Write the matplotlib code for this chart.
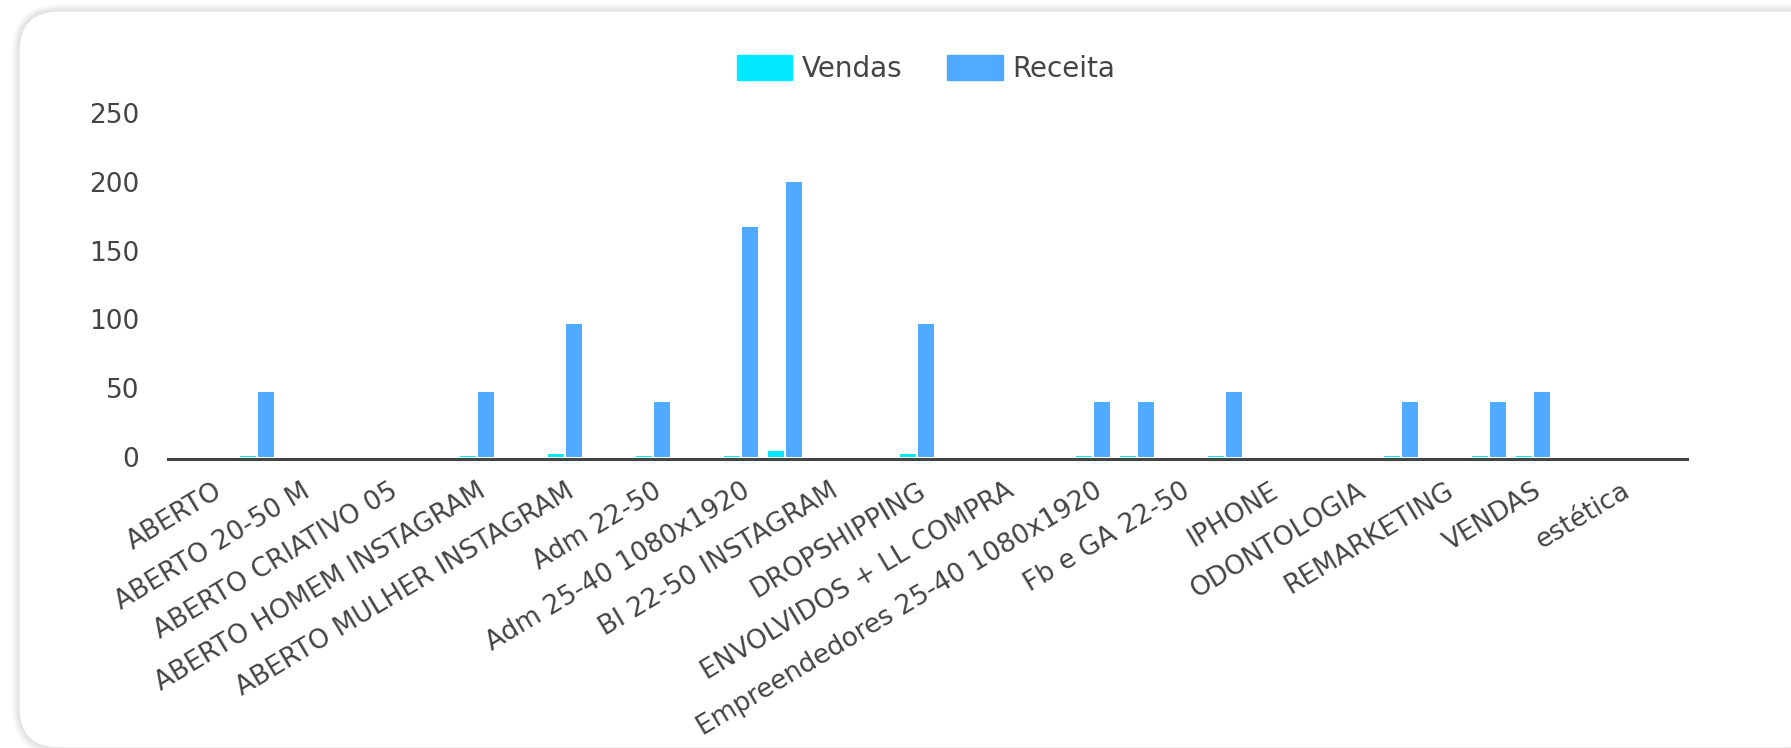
import numpy as np
import matplotlib
matplotlib.use("Agg")
import matplotlib.pyplot as plt
from matplotlib.patches import FancyBboxPatch, Patch

plt.rcParams['font.family'] = ['DejaVu Sans']

# rótulos visíveis do eixo x (um a cada duas categorias)
tick_labels = ["ABERTO", "ABERTO 20-50 M", "ABERTO CRIATIVO 05", "ABERTO HOMEM INSTAGRAM",
               "ABERTO MULHER INSTAGRAM", "Adm 22-50", "Adm 25-40 1080x1920",
               "BI 22-50 INSTAGRAM", "DROPSHIPPING", "ENVOLVIDOS + LL COMPRA",
               "Empreendedores 25-40 1080x1920", "Fb e GA 22-50", "IPHONE",
               "ODONTOLOGIA", "REMARKETING", "VENDAS", "estética"]

# valores por categoria (34 categorias no eixo)
vendas = [0, 0, 1, 0, 0, 0, 0, 1, 0, 2, 0, 1, 0, 1, 4, 0, 0, 2,
          0, 0, 0, 1, 1, 0, 1, 0, 0, 0, 1, 0, 1, 1, 0, 0]
receita = [0, 0, 47, 0, 0, 0, 0, 47, 0, 97, 0, 40, 0, 167, 200, 0, 0, 97,
           0, 0, 0, 40, 40, 0, 47, 0, 0, 0, 40, 0, 40, 47, 0, 0]
yticks = [0, 50, 100, 150, 200, 250]

cor_vendas = "#00E9FC"
cor_receita = "#4FABFE"
cor_texto = "#444444"

W, H = 1791, 748
fig = plt.figure(figsize=(W / 100, H / 100), dpi=100)
fig.patch.set_facecolor("white")

# cartão de fundo com sombra
bg = fig.add_axes([0, 0, 1, 1])
bg.set_xlim(0, W)
bg.set_ylim(H, 0)
bg.axis("off")
for i in range(7, 0, -1):
    bg.add_patch(FancyBboxPatch((19 - i, 11 - i), 1830 - 19 + 2 * i, 748 - 11 + 2 * i,
                                boxstyle="round,pad=0,rounding_size=%d" % (40 + i),
                                fc="black", ec="none", alpha=0.014))
bg.add_patch(FancyBboxPatch((19, 11), 1830 - 19, 748 - 11,
                            boxstyle="round,pad=0,rounding_size=40",
                            fc="white", ec="#e3e3e3", lw=1))

ax = fig.add_axes([168.3 / W, 1 - 457 / H, (1687 - 168.3) / W, (457 - 113) / H])
ax.patch.set_alpha(0)

x = np.arange(len(receita))
off = 0.205
bw = 0.364
ax.bar(x - off, vendas, width=bw, color=cor_vendas, label="Vendas", zorder=2)
ax.bar(x + off, receita, width=bw, color=cor_receita, label="Receita", zorder=2)

ax.set_xlim(-0.02, 34.5)
ax.set_ylim(0, 250)
for s in ["top", "right", "left"]:
    ax.spines[s].set_visible(False)
ax.spines["bottom"].set_color(cor_texto)
ax.spines["bottom"].set_linewidth(2.2)
ax.spines["bottom"].set_position(("outward", 1.1))

ax.set_yticks(yticks)
ax.set_yticklabels([str(v) for v in yticks])
ax.tick_params(axis="y", length=0, pad=21, labelsize=19, labelcolor=cor_texto)

pos = np.arange(1, len(receita), 2)
ax.set_xticks(pos)
ax.set_xticklabels(tick_labels, rotation=31, ha="right", va="top", rotation_mode="anchor")
ax.tick_params(axis="x", length=0, pad=14, labelsize=19, labelcolor=cor_texto)

handles = [Patch(color=cor_vendas, label="Vendas"), Patch(color=cor_receita, label="Receita")]
fig.legend(handles=handles, loc="center", bbox_to_anchor=(926 / W, 1 - 69 / H), ncol=2,
           frameon=False, fontsize=20, handlelength=2.0, handleheight=1.0,
           handletextpad=0.35, columnspacing=1.6, labelcolor=cor_texto)

fig.savefig("out.png", dpi=100)
